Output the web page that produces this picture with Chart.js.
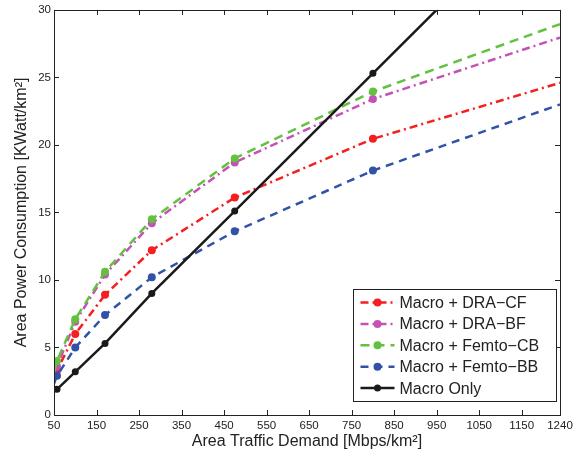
<!DOCTYPE html>
<html>
<head>
<meta charset="utf-8">
<script src="https://cdn.jsdelivr.net/npm/chart.js@4"></script>
<style>
  html, body { margin: 0; padding: 0; background: #fff; }
  #wrap { width: 586px; height: 457px; }
</style>
</head>
<body>
<div id="wrap"><canvas id="powerChart" width="586" height="457"></canvas></div>
<script>
// traffic demand points (Mbps/km^2); last one only extends the line to the edge
const traffic = [50, 57, 100, 170, 280, 475, 800, 1240];
const draCF    = [2.7, 3.3, 6.0, 8.9, 12.2, 16.1, 20.45, 24.6];
const draBF    = [3.0, 3.6, 6.9, 10.4, 14.2, 18.7, 23.4, 27.95];
const femtoCB  = [3.2, 4.0, 7.1, 10.6, 14.5, 19.0, 23.95, 28.95];
const femtoBB  = [2.3, 2.9, 5.0, 7.4, 10.2, 13.6, 18.1, 23.0];
const macroOnly = [1.75, 1.9, 3.2, 5.3, 9.0, 15.1, 25.3, 39.1];

const seriesNames = ['Macro + DRA\u2212CF', 'Macro + DRA\u2212BF', 'Macro + Femto\u2212CB', 'Macro + Femto\u2212BB', 'Macro Only'];
const xTicks = [50, 150, 250, 350, 450, 550, 650, 750, 850, 950, 1050, 1150, 1240];
const yTicks = [0, 5, 10, 15, 20, 25, 30];

const FONT = 'Liberation Sans, Arial, Helvetica, sans-serif';

const toPoints = (vals) => traffic.map((x, i) => ({ x: x, y: vals[i] }));
const markerSizes = (r) => traffic.map((x, i) => (i === 0 || i === traffic.length - 1) ? 0 : r);

const styles = [
  { color: '#f51f1f', dash: [8, 4, 2, 4], r: 4 },
  { color: '#c452b4', dash: [8, 4, 2, 4], r: 4 },
  { color: '#63c13f', dash: [9, 6], r: 4 },
  { color: '#3252a8', dash: [8, 6], r: 4 },
  { color: '#1a1a1a', dash: [], r: 3.5 }
];
const allSeries = [draCF, draBF, femtoCB, femtoBB, macroOnly];

const datasets = allSeries.map((vals, i) => ({
  label: seriesNames[i],
  data: toPoints(vals),
  borderColor: styles[i].color,
  backgroundColor: styles[i].color,
  pointBackgroundColor: styles[i].color,
  pointBorderColor: styles[i].color,
  pointRadius: markerSizes(styles[i].r),
  pointBorderWidth: 0,
  borderWidth: 2.5,
  borderDash: styles[i].dash,
  tension: 0,
  clip: 0,
  order: 5 - i
}));

// box, inward ticks and legend, drawn the matlab way
const frameAndLegend = {
  id: 'frameAndLegend',
  afterDraw(chart) {
    const ctx = chart.ctx;
    const area = chart.chartArea;
    const xs = chart.scales.x, ys = chart.scales.y;
    ctx.save();
    ctx.strokeStyle = '#222';
    ctx.lineWidth = 1;
    ctx.setLineDash([]);
    ctx.strokeRect(Math.round(area.left) + 0.5, Math.round(area.top) + 0.5,
      Math.round(area.right - area.left), Math.round(area.bottom - area.top));
    const tl = 5;
    ctx.beginPath();
    xTicks.forEach(v => {
      const px = Math.round(xs.getPixelForValue(v)) + 0.5;
      ctx.moveTo(px, area.bottom); ctx.lineTo(px, area.bottom - tl);
      ctx.moveTo(px, area.top); ctx.lineTo(px, area.top + tl);
    });
    yTicks.forEach(v => {
      const py = Math.round(ys.getPixelForValue(v)) + 0.5;
      ctx.moveTo(area.left, py); ctx.lineTo(area.left + tl, py);
      ctx.moveTo(area.right, py); ctx.lineTo(area.right - tl, py);
    });
    ctx.stroke();

    // legend
    const bx = 353.5, by = 289.5, bw = 203, bh = 112;
    ctx.fillStyle = '#fff';
    ctx.fillRect(bx, by, bw, bh);
    ctx.strokeStyle = '#222';
    ctx.strokeRect(bx, by, bw, bh);
    ctx.font = '16px ' + FONT;
    ctx.textBaseline = 'middle';
    ctx.textAlign = 'left';
    seriesNames.forEach((name, i) => {
      const y = by + 13 + i * 21.4;
      ctx.strokeStyle = styles[i].color;
      ctx.lineWidth = 2.5;
      ctx.setLineDash(styles[i].dash);
      ctx.beginPath();
      ctx.moveTo(bx + 7, y); ctx.lineTo(bx + 41, y);
      ctx.stroke();
      ctx.setLineDash([]);
      ctx.fillStyle = styles[i].color;
      ctx.beginPath();
      ctx.arc(bx + 24, y, styles[i].r, 0, Math.PI * 2);
      ctx.fill();
      ctx.fillStyle = '#222';
      ctx.fillText(name, bx + 46, y + 1);
    });
    ctx.restore();
  }
};

new Chart(document.getElementById('powerChart').getContext('2d'), {
  type: 'line',
  data: { datasets: datasets },
  options: {
    responsive: false,
    animation: false,
    layout: { padding: { top: 6, right: 26, left: 0, bottom: 0 } },
    plugins: { legend: { display: false }, tooltip: { enabled: false } },
    scales: {
      x: {
        type: 'linear',
        min: 50,
        max: 1240,
        afterBuildTicks: (scale) => { scale.ticks = xTicks.map(v => ({ value: v })); },
        afterFit: (scale) => { scale.height = 42; },
        grid: { display: false, drawTicks: false },
        border: { display: false },
        ticks: {
          padding: 4, maxRotation: 0, autoSkip: false, color: '#222',
          font: { family: FONT, size: 11.5 },
          callback: (v) => String(v)
        },
        title: {
          display: true,
          text: 'Area Traffic Demand [Mbps/km\u00b2]',
          color: '#222',
          font: { family: FONT, size: 16 },
          padding: { top: 0, bottom: 6 }
        }
      },
      y: {
        min: 0,
        max: 30,
        afterBuildTicks: (scale) => { scale.ticks = yTicks.map(v => ({ value: v })); },
        afterFit: (scale) => { scale.width = 54; },
        grid: { display: false, drawTicks: false },
        border: { display: false },
        ticks: {
          padding: 3, color: '#222',
          font: { family: FONT, size: 11.5 },
          callback: (v) => String(v)
        },
        title: {
          display: true,
          text: 'Area Power Consumption [KWatt/km\u00b2]',
          color: '#222',
          font: { family: FONT, size: 16 },
          padding: { top: 12, bottom: 0 }
        }
      }
    }
  },
  plugins: [frameAndLegend]
});
</script>
</body>
</html>
